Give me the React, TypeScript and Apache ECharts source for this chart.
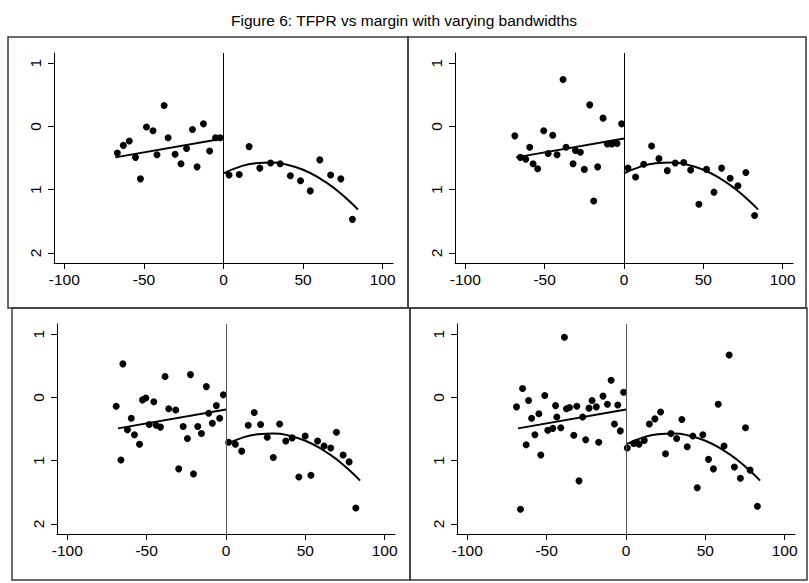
import React, { useEffect, useRef } from "react";
import * as echarts from "echarts";

const titleText = "Figure 6: TFPR vs margin with varying bandwidths";
const xTickMin = -100;
const xTickMax = 100;
const xTickStep = 50;
const yTickMin = -2;
const yTickMax = 1;
const yTickStep = 1;

// fitted lines (same in all four panels)
const fitLeftX = [-68, 0];
const fitLeftY = [-0.49, -0.19];
const fitRightX = [0, 10, 20, 30, 40, 50, 60, 70, 80, 84.5];
const fitRightY = [-0.744, -0.64, -0.583, -0.571, -0.606, -0.686, -0.813, -0.985, -1.204, -1.317];

// panel 1
const p1X = [-66.7, -62.9, -59.2, -55.3, -52.2, -48.4, -44.3, -41.8, -37.3, -34.8, -30.4, -26.7, -23.2, -19.5, -16.6, -12.6, -8.7, -5.0, -2.1,
  3.5, 9.9, 16.1, 22.8, 29.6, 35.6, 42.0, 48.4, 54.5, 60.5, 67.3, 73.7, 81.0];
const p1Y = [-0.42, -0.30, -0.23, -0.49, -0.83, -0.01, -0.07, -0.45, 0.33, -0.18, -0.44, -0.59, -0.35, -0.05, -0.64, 0.04, -0.39, -0.18, -0.18,
  -0.77, -0.76, -0.32, -0.66, -0.58, -0.59, -0.78, -0.86, -1.02, -0.53, -0.77, -0.83, -1.47];

// panel 2
const p2X = [-68.8, -65.3, -61.9, -59.4, -57.3, -54.4, -50.6, -47.8, -44.9, -42.2, -38.4, -36.5, -32.1, -30.6, -27.5, -25.0, -21.6, -19.1, -16.6, -13.2, -10.5, -7.6, -4.4, -1.5,
  2.5, 7.3, 12.4, 17.4, 22.0, 27.3, 32.3, 37.6, 42.0, 47.2, 52.0, 56.7, 61.5, 66.9, 71.8, 76.8, 82.3];
const p2Y = [-0.15, -0.49, -0.52, -0.33, -0.59, -0.67, -0.07, -0.43, -0.14, -0.45, 0.74, -0.33, -0.59, -0.38, -0.41, -0.68, 0.34, -1.18, -0.64, 0.13, -0.28, -0.28, -0.27, 0.04,
  -0.66, -0.80, -0.60, -0.31, -0.51, -0.70, -0.58, -0.57, -0.69, -1.23, -0.68, -1.04, -0.66, -0.82, -0.94, -0.73, -1.41];

// panel 3
const p3X = [-69.2, -65.0, -66.2, -62.1, -59.7, -57.7, -54.5, -52.6, -50.5, -48.4, -45.5, -44.0, -41.3, -38.4, -36.1, -31.7, -29.8, -27.0, -24.3, -22.4, -20.5, -17.8, -15.5, -12.4, -10.9, -8.6, -6.1, -4.0, -1.7,
  1.7, 5.9, 9.9, 14.0, 17.8, 21.8, 26.0, 29.8, 33.8, 37.7, 41.7, 45.9, 49.9, 53.5, 57.7, 61.8, 66.0, 69.6, 73.8, 77.6, 81.8];
const p3Y = [-0.14, 0.53, -0.99, -0.51, -0.33, -0.59, -0.74, -0.04, -0.01, -0.43, -0.07, -0.44, -0.47, 0.33, -0.18, -0.20, -1.13, -0.46, -0.65, 0.36, -1.21, -0.46, -0.57, 0.17, -0.25, -0.41, -0.13, -0.33, 0.04,
  -0.71, -0.74, -0.85, -0.44, -0.24, -0.43, -0.63, -0.95, -0.42, -0.69, -0.64, -1.26, -0.61, -1.23, -0.69, -0.77, -0.80, -0.55, -0.91, -1.02, -1.75];

// panel 4
const p4X = [-69.0, -65.2, -66.5, -62.9, -61.4, -59.5, -57.4, -54.9, -53.7, -51.2, -49.3, -46.1, -44.4, -43.6, -41.1, -38.8, -37.5, -35.6, -32.9, -31.0, -29.6, -27.3, -25.4, -23.3, -21.4, -18.7, -17.2, -14.5, -11.7, -9.4, -7.3, -5.2, -3.6, -1.5,
  0.8, 4.8, 6.7, 8.2, 11.5, 14.7, 18.2, 21.8, 24.9, 28.3, 31.9, 35.2, 38.6, 42.1, 44.9, 48.4, 52.0, 55.1, 58.1, 61.8, 65.0, 68.3, 72.1, 75.3, 78.2, 82.8];
const p4Y = [-0.15, 0.14, -1.77, -0.75, -0.05, -0.33, -0.59, -0.26, -0.91, 0.03, -0.52, -0.49, -0.13, -0.31, -0.48, 0.95, -0.18, -0.16, -0.60, -0.14, -1.32, -0.31, -0.67, -0.17, -0.05, -0.15, -0.71, 0.02, -0.11, 0.27, -0.42, -0.12, -0.53, 0.08,
  -0.80, -0.73, -0.71, -0.74, -0.68, -0.42, -0.34, -0.23, -0.89, -0.57, -0.65, -0.35, -0.78, -0.61, -1.43, -0.59, -0.98, -1.13, -0.11, -0.77, 0.67, -1.10, -1.28, -0.48, -1.15, -1.72];

const panelXs = [p1X, p2X, p3X, p4X];
const panelYs = [p1Y, p2Y, p3Y, p4Y];

const FONT = "Liberation Sans, Arial, sans-serif";
const LABEL_SIZE = 15.5;

export default function App() {
  const ref = useRef<HTMLDivElement>(null);

  useEffect(() => {
    if (!ref.current) return;
    const chart = echarts.init(ref.current, undefined, { renderer: "svg" });

    const X_PAD = 6.5;
    const Y_PAD = 0.16;
    const xLo = xTickMin - X_PAD, xHi = xTickMax + X_PAD;
    const yLo = yTickMin - Y_PAD, yHi = yTickMax + Y_PAD;

    // outer (data) grids: the area between the axis lines
    const outer = [
      { left: 54, top: 53, width: 339, height: 210 },
      { left: 455, top: 53, width: 338, height: 210 },
      { left: 57, top: 324, width: 338, height: 210 },
      { left: 457, top: 324, width: 338, height: 210 },
    ];
    // inner grids carry the ticks and labels from -100..100 and -2..1
    const inner = outer.map((g) => {
      const pxX = g.width / (xHi - xLo);
      const pxY = g.height / (yHi - yLo);
      const dx = X_PAD * pxX;
      const dy = Y_PAD * pxY;
      return { left: g.left + dx, top: g.top + dy, width: g.width - 2 * dx, height: g.height - 2 * dy, dx, dy };
    });

    const grids = [
      ...outer.map((g) => ({ left: g.left, top: g.top, width: g.width, height: g.height })),
      ...inner.map((g) => ({ left: g.left, top: g.top, width: g.width, height: g.height })),
    ];

    const labelStyle = { color: "#000", fontSize: LABEL_SIZE, fontFamily: FONT };

    const xAxes: any[] = [];
    const yAxes: any[] = [];
    outer.forEach((_, i) => {
      xAxes.push({
        type: "value", gridIndex: i, min: xLo, max: xHi,
        splitLine: { show: false },
        axisLine: { show: true, onZero: false, lineStyle: { color: "#000", width: 1 } },
        axisTick: { show: false }, axisLabel: { show: false },
      });
      yAxes.push({
        type: "value", gridIndex: i, min: yLo, max: yHi,
        splitLine: { show: false },
        axisLine: { show: true, onZero: false, lineStyle: { color: "#000", width: 1 } },
        axisTick: { show: false }, axisLabel: { show: false },
      });
    });
    inner.forEach((g, i) => {
      xAxes.push({
        type: "value", gridIndex: 4 + i, min: xTickMin, max: xTickMax, interval: xTickStep,
        position: "bottom", offset: g.dy,
        splitLine: { show: false },
        axisLine: { show: false, onZero: false },
        axisTick: { show: true, length: 6, lineStyle: { color: "#000" } },
        axisLabel: { ...labelStyle, margin: 8, showMinLabel: true, showMaxLabel: true },
      });
      yAxes.push({
        type: "value", gridIndex: 4 + i, min: yTickMin, max: yTickMax, interval: yTickStep,
        position: "left", offset: g.dx,
        splitLine: { show: false },
        axisLine: { show: false, onZero: false },
        axisTick: { show: true, length: 6, lineStyle: { color: "#000" } },
        axisLabel: { ...labelStyle, margin: 11, rotate: 90, showMinLabel: true, showMaxLabel: true, formatter: (v: number) => String(Math.abs(v)) },
      });
    });

    const zeroLineColors = ["#000", "#000", "#555", "#555"];
    const series: any[] = [];
    for (let i = 0; i < 4; i++) {
      series.push({
        type: "scatter",
        xAxisIndex: i,
        yAxisIndex: i,
        symbolSize: 7,
        itemStyle: { color: "#000", opacity: 1 },
        data: panelXs[i].map((x, k) => [x, panelYs[i][k]]),
        markLine: {
          silent: true,
          symbol: "none",
          label: { show: false },
          lineStyle: { color: zeroLineColors[i], width: 1, type: "solid", opacity: 1 },
          data: [{ xAxis: 0 }],
        },
      });
      series.push({
        type: "line",
        xAxisIndex: i,
        yAxisIndex: i,
        showSymbol: false,
        lineStyle: { color: "#000", width: 2 },
        data: fitLeftX.map((x, k) => [x, fitLeftY[k]]),
      });
      series.push({
        type: "line",
        xAxisIndex: i,
        yAxisIndex: i,
        showSymbol: false,
        smooth: true,
        lineStyle: { color: "#000", width: 2 },
        data: fitRightX.map((x, k) => [x, fitRightY[k]]),
      });
    }

    const borderStyle = { stroke: "#3a3a3a", lineWidth: 1.5, fill: "none" };
    chart.setOption({
      animation: false,
      backgroundColor: "#fff",
      textStyle: { fontFamily: FONT, fontSize: LABEL_SIZE, color: "#000" },
      grid: grids,
      xAxis: xAxes,
      yAxis: yAxes,
      series,
      graphic: [
        { type: "text", x: 404, y: 20, style: { text: titleText, fontSize: 15.5, fontFamily: FONT, fill: "#000", align: "center", verticalAlign: "middle" } },
        { type: "rect", shape: { x: 8, y: 37, width: 400, height: 271 }, style: borderStyle, silent: true },
        { type: "rect", shape: { x: 408, y: 37, width: 398, height: 271 }, style: borderStyle, silent: true },
        { type: "rect", shape: { x: 12, y: 308, width: 398, height: 272 }, style: borderStyle, silent: true },
        { type: "rect", shape: { x: 410, y: 308, width: 397, height: 272 }, style: borderStyle, silent: true },
      ],
    });
    return () => chart.dispose();
  }, []);

  return <div ref={ref} style={{ position: "absolute", left: 0, top: 0, width: 809, height: 583 }} />;
}
